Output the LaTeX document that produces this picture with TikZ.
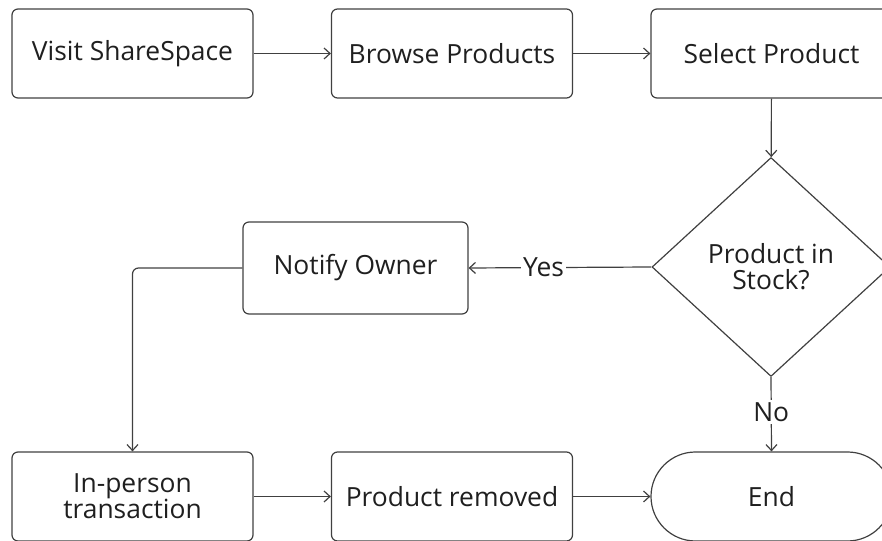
\documentclass[tikz,border=0pt]{standalone}
\usepackage{fontspec}
\setmainfont{Open Sans}
\usepackage{tikz}
\usetikzlibrary{shapes,arrows.meta,shapes.geometric,shapes.misc}
\definecolor{linecol}{rgb}{0.25,0.25,0.25}
\definecolor{textcol}{rgb}{0.12,0.12,0.12}
\begin{document}
\begin{tikzpicture}[>={Straight Barb[length=6bp,width=11bp]},line join=bevel,
  stepbox/.style={draw=linecol,rounded corners=6bp,minimum width=241bp,minimum height=89bp,inner sep=0pt,text=textcol,font=\fontsize{26.5}{28}\selectfont},
  endbox/.style={draw=linecol,rounded rectangle,minimum width=241bp,minimum height=89bp,inner sep=0pt,text=textcol,font=\fontsize{26.5}{28}\selectfont},
  askbox/.style={draw=linecol,diamond,minimum width=238bp,minimum height=219bp,inner sep=0pt,align=center,text=textcol,font=\fontsize{26.5}{26}\selectfont},
  flow/.style={->,draw=linecol},
  answer/.style={fill=white,inner sep=2bp,text=textcol,font=\fontsize{26.5}{28}\selectfont}]
\pgfsetlinewidth{1.2bp}
\clip (0bp,0bp) rectangle (882bp,541bp);
% top row
\node[stepbox] (visit) at (132.5bp,487.5bp) {Visit ShareSpace};
\node[stepbox] (browse) at (452bp,487.5bp) {Browse Products};
\node[stepbox] (select) at (771.5bp,487.5bp) {Select Product};
% decision
\node[askbox] (stock) at (771bp,274bp) {Product in\\Stock?};
\node[stepbox,minimum width=225bp,minimum height=92bp] (notify) at (355.5bp,273bp) {Notify Owner};
% bottom row
\node[stepbox,align=center,font=\fontsize{26.5}{26}\selectfont] (inperson) at (132.5bp,44.5bp) {In-person\\transaction};
\node[stepbox] (removed) at (452bp,44.5bp) {Product removed};
\node[endbox] (end) at (771.5bp,44.5bp) {End};
% connectors
 \draw [flow] (visit) -- (browse);
 \draw [flow] (browse) -- (select);
 \draw [flow] (select) -- (stock);
 \draw [flow] (stock.west) -- node[answer,pos=0.59] {Yes} (notify.east);
 \draw [flow] (stock.south) -- node[answer,pos=0.47] {No} (end.north);
 \draw [flow,rounded corners=6bp] (notify.west) -| (inperson.north);
 \draw [flow] (inperson) -- (removed);
 \draw [flow] (removed) -- (end);
\end{tikzpicture}
\end{document}
